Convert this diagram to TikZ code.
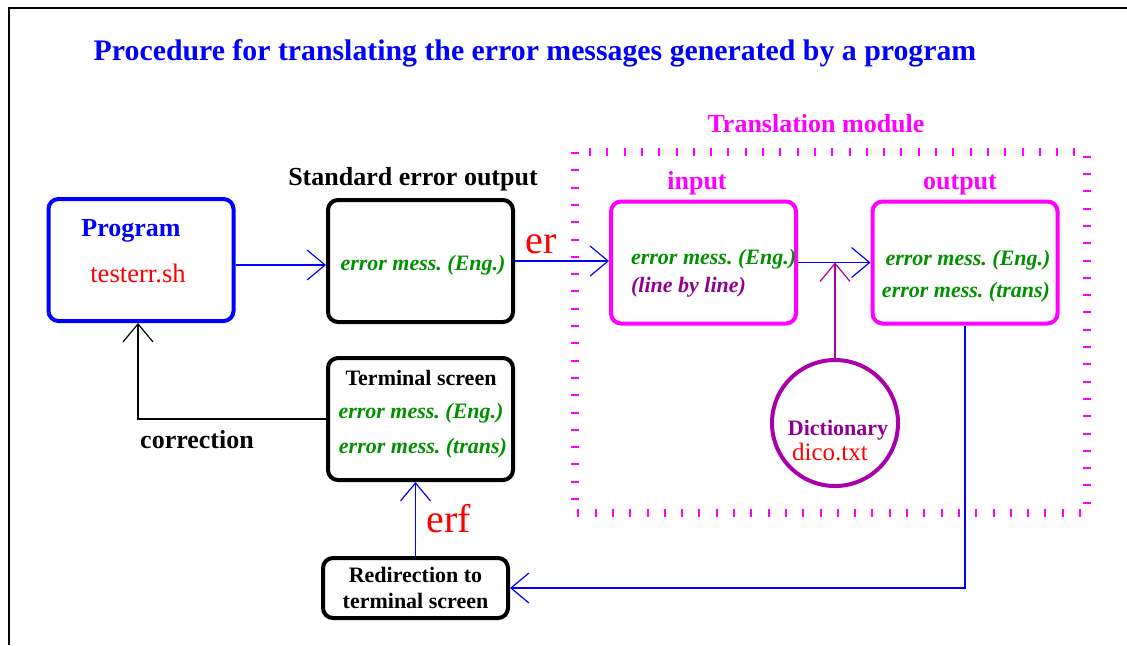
\documentclass[tikz,border=0pt]{standalone}
\usepackage{fontspec}
\setmainfont{Liberation Serif}
\frenchspacing
\usetikzlibrary{arrows.meta,positioning,calc}
\definecolor{figgreen}{RGB}{0,144,0}
\definecolor{figpurple}{RGB}{144,0,144}
\definecolor{figviolet}{RGB}{170,0,170}
\definecolor{figmagenta}{RGB}{255,0,255}
\definecolor{figblue}{RGB}{0,0,255}
\tikzset{
    box/.style={
        rectangle,
        rounded corners=5pt,
        line width=2pt,
        draw=black,
        minimum width=92.5pt,
        minimum height=61pt,
        inner sep=0pt
    },
    mess/.style={
        font=\fontsize{11}{13}\selectfont\bfseries\itshape,
        text=figgreen,
        anchor=base
    },
    heading/.style={font=\fontsize{13}{15}\selectfont\bfseries, anchor=base},
    smallheading/.style={font=\fontsize{11}{13}\selectfont\bfseries, anchor=base},
    bigname/.style={font=\fontsize{20}{22}\selectfont, text=red, anchor=base},
    flow/.style={-{Straight Barb[length=9pt,width=15pt]}, line width=0.6pt, draw=figblue}
}

\begin{document}
\begin{tikzpicture}[x=0.5pt, y=-0.5pt]
    \useasboundingbox (0,0) rectangle (1127,645);

    % cadre
    \draw[line width=1pt] (9,645) |- (1127,8);

    % titre
    \node[font=\fontsize{14.9}{17}\selectfont\bfseries, text=figblue, anchor=base] (title) at (535,60)
        {Procedure for translating the error messages generated by a program};

    % module de traduction
    \draw[figmagenta, line width=4pt, dash pattern=on 1pt off 7.65pt] (575,152) rectangle (1087,513);
    \node[heading, text=figmagenta] (modlabel) at (816,132) {Translation module};

    % boites
    \node[box, draw=figblue] (prog) at (141,260) {};
    \node[box] (stderr) at (420.5,261) {};
    \node[box, draw=figmagenta] (input) at (703.5,262.5) {};
    \node[box, draw=figmagenta] (output) at (965,262.5) {};
    \node[box] (term) at (420.5,419) {};
    \node[box, minimum height=30pt, align=center, font=\fontsize{11}{13}\selectfont\bfseries] (redir) at (415.5,588)
        {Redirection to\\terminal screen};
    \node[circle, draw=figviolet, line width=2pt, minimum size=63pt, inner sep=0pt] (dico) at (835,423) {};

    % textes
    \node[heading, text=figblue] (progname) at (131,236) {Program};
    \node[heading, font=\fontsize{13.3}{15}\selectfont, text=red] (progfile) at (138,282) {testerr.sh};
    \node[heading] (stdlabel) at (413,185) {Standard error output};
    \node[mess] (std1) at (423,270) {error mess. (Eng.)};
    \node[heading, text=figmagenta] (inlabel) at (697,189) {input};
    \node[mess, anchor=base west] (in1) at (624,264) {error mess. (Eng.)};
    \node[mess, anchor=base west, text=figpurple] (in2) at (624,292) {(line by line)};
    \node[heading, text=figmagenta] (outlabel) at (960,189) {output};
    \node[mess] (out1) at (968,265) {error mess. (Eng.)};
    \node[mess] (out2) at (966,297) {error mess. (trans)};
    \node[smallheading] (termlabel) at (421,385) {Terminal screen};
    \node[mess] (term1) at (421,418) {error mess. (Eng.)};
    \node[mess] (term2) at (423,453) {error mess. (trans)};
    \node[smallheading, text=figpurple] (diconame) at (838,435) {Dictionary};
    \node[heading, font=\fontsize{12.5}{14}\selectfont, text=red] (dicofile) at (830,460) {dico.txt};
    \node[heading] (corrlabel) at (197,448) {correction};
    \node[bigname] (er) at (541,253) {er};
    \node[bigname] (erf) at (449,532) {erf};

    % fleches
    \draw[flow] ([yshift=-2.5pt]prog.east) -- ([yshift=-2.5pt]prog.east -| stderr.west);
    \draw[flow] (stderr.east) -- (stderr.east -| input.west);
    \draw[flow] (input.east) -- (input.east -| output.west);
    \coordinate (merge) at ($(input.east)!0.5!(output.west)$);
    \draw[flow, draw=figviolet] (dico.north) -- (dico.north |- merge);
    \draw[flow] (output.south) |- (redir.east);
    \draw[flow] (redir.north) -- (redir.north |- term.south);
    \draw[flow, draw=black] (term.west) -| ([xshift=-1.5pt]prog.south);

\end{tikzpicture}
\end{document}
